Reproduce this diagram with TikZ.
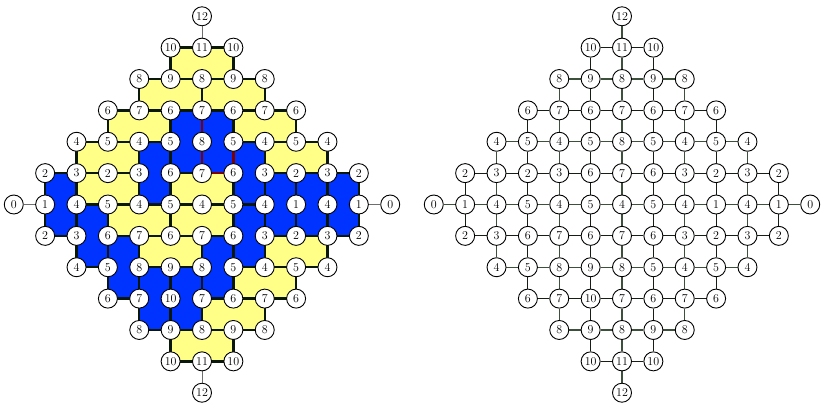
\documentclass[tikz,border=0pt]{standalone}
\usetikzlibrary{backgrounds}
\definecolor{tileyellow}{RGB}{255,255,136}
\definecolor{tileblue}{RGB}{0,51,255}
\definecolor{edgedark}{RGB}{10,24,10}
\definecolor{edgered}{RGB}{125,0,0}
\definecolor{linkgray}{RGB}{110,110,110}
\definecolor{gridodd}{RGB}{20,30,20}
\definecolor{grideven}{RGB}{60,80,60}
\tikzset{
  hnode/.style={circle,draw=black,line width=0.9pt,fill=white,minimum size=19pt,inner sep=0pt,font=\fontsize{12}{14}\selectfont},
  htile/.style={fill=tileyellow,draw=edgedark,line width=2.4pt,line join=round},
  vtile/.style={fill=tileblue,draw=edgedark,line width=2.4pt,line join=round},
  rededge/.style={draw=edgered,line width=2.4pt,line cap=round},
  cornerlink/.style={draw=linkgray,line width=1pt},
  oddedge/.style={draw=gridodd,line width=0.8pt},
  evenedge/.style={draw=grideven,line width=1.1pt},
}
\def\nodelist{0/6/12,
 -1/5/10, 0/5/11, 1/5/10,
 -2/4/8, -1/4/9, 0/4/8, 1/4/9, 2/4/8,
 -3/3/6, -2/3/7, -1/3/6, 0/3/7, 1/3/6, 2/3/7, 3/3/6,
 -4/2/4, -3/2/5, -2/2/4, -1/2/5, 0/2/8, 1/2/5, 2/2/4, 3/2/5, 4/2/4,
 -5/1/2, -4/1/3, -3/1/2, -2/1/3, -1/1/6, 0/1/7, 1/1/6, 2/1/3, 3/1/2, 4/1/3, 5/1/2,
 -6/0/0, -5/0/1, -4/0/4, -3/0/5, -2/0/4, -1/0/5, 0/0/4, 1/0/5, 2/0/4, 3/0/1, 4/0/4, 5/0/1, 6/0/0,
 -5/-1/2, -4/-1/3, -3/-1/6, -2/-1/7, -1/-1/6, 0/-1/7, 1/-1/6, 2/-1/3, 3/-1/2, 4/-1/3, 5/-1/2,
 -4/-2/4, -3/-2/5, -2/-2/8, -1/-2/9, 0/-2/8, 1/-2/5, 2/-2/4, 3/-2/5, 4/-2/4,
 -3/-3/6, -2/-3/7, -1/-3/10, 0/-3/7, 1/-3/6, 2/-3/7, 3/-3/6,
 -2/-4/8, -1/-4/9, 0/-4/8, 1/-4/9, 2/-4/8,
 -1/-5/10, 0/-5/11, 1/-5/10,
 0/-6/12}
\begin{document}
\begin{tikzpicture}[x=31.37pt,y=31.37pt]
\useasboundingbox (-202pt,-201.5pt) rectangle (619pt,204.5pt);
% ---------------- left: domino tiling ----------------
\foreach \i/\j/\h in \nodelist {
  \node[hnode] (L\i_\j) at (\i,\j) {\h};
}
\begin{scope}[on background layer]
  \foreach \a/\b in {-1_4/1_5, -2_3/0_4, 0_3/2_4, -3_2/-1_3, 1_2/3_3, -4_1/-2_2, 2_1/4_2,
      -4_0/-2_1, -1_0/1_1, -3_-1/-1_0, -1_-1/1_0, -2_-2/0_-1, 2_-2/4_-1, 1_-3/3_-2,
      0_-4/2_-3, -1_-5/1_-4}
    \draw[htile] (L\a) rectangle (L\b);
  \foreach \a/\b in {-1_1/0_3, 0_1/1_3, -2_0/-1_2, 1_0/2_2, -5_-1/-4_1, 2_-1/3_1, 3_-1/4_1,
      4_-1/5_1, -4_-2/-3_0, 1_-2/2_0, -3_-3/-2_-1, 0_-3/1_-1, -2_-4/-1_-2, -1_-4/0_-2}
    \draw[vtile] (L\a) rectangle (L\b);
  \draw[rededge] (L0_3) -- (L0_2) -- (L0_1) -- (L1_1) -- (L1_2);
  \draw[cornerlink] (L0_6) -- (L0_5);
  \draw[cornerlink] (L0_-6) -- (L0_-5);
  \draw[cornerlink] (L-6_0) -- (L-5_0);
  \draw[cornerlink] (L6_0) -- (L5_0);
\end{scope}
% ---------------- right: height grid ----------------
\begin{scope}[shift={(420pt,0pt)}]
  \foreach \i/\j/\h in \nodelist {
    \node[hnode] (R\i_\j) at (\i,\j) {\h};
  }
  \begin{scope}[on background layer]
    \foreach \i/\j/\h in \nodelist {
      \pgfmathtruncatemacro\ni{\i+1}
      \pgfmathtruncatemacro\nj{\j+1}
      \pgfmathtruncatemacro\sh{abs(\ni)+abs(\j)}
      \pgfmathtruncatemacro\sv{abs(\i)+abs(\nj)}
      \ifnum\sh<7\relax
        \ifodd\j\relax
          \draw[oddedge] (R\i_\j) -- (R\ni_\j);
        \else
          \draw[evenedge] (R\i_\j) -- (R\ni_\j);
        \fi
      \fi
      \ifnum\sv<7\relax
        \ifodd\i\relax
          \draw[oddedge] (R\i_\j) -- (R\i_\nj);
        \else
          \draw[evenedge] (R\i_\j) -- (R\i_\nj);
        \fi
      \fi
    }
  \end{scope}
\end{scope}
\end{tikzpicture}
\end{document}
